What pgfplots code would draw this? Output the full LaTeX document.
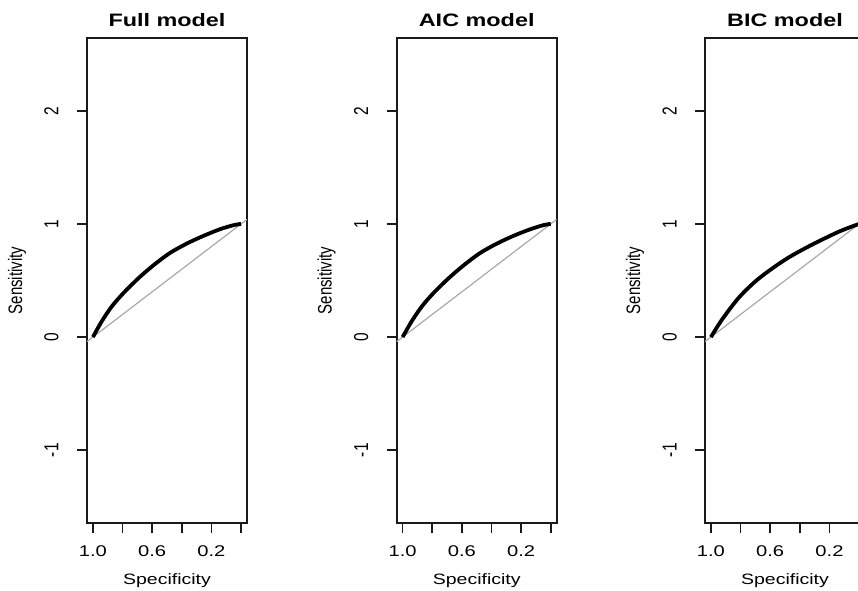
\documentclass[border=0pt]{standalone}
\usepackage{fontspec}
\setmainfont{Liberation Sans}
\usepackage{graphicx}
\usepackage{pgfplots}
\usepackage{pgfplotstable}
\pgfplotsset{compat=1.18}
\definecolor{diaggrey}{HTML}{A9A9A9}
\definecolor{frame}{HTML}{1A1A1A}

% the source image is stretched sideways, so the text is too
\newcommand{\hs}[1]{\scalebox{1.3}[1]{#1}}
\newcommand{\vs}[1]{\scalebox{1}[1.3]{#1}}

% ROC curves: specificity, sensitivity
\pgfplotstableread{
spec sens
1.000 0.000
0.941 0.138
0.873 0.270
0.794 0.389
0.692 0.521
0.590 0.636
0.478 0.745
0.364 0.828
0.251 0.896
0.138 0.955
0.047 0.990
0.000 1.000
}\fullroc
\pgfplotstableread{
spec sens
1.000 0.000
0.941 0.135
0.873 0.266
0.794 0.386
0.692 0.517
0.590 0.632
0.478 0.742
0.364 0.826
0.251 0.895
0.138 0.953
0.047 0.990
0.000 1.000
}\aicroc
\pgfplotstableread{
spec sens
1.000 0.000
0.926 0.153
0.814 0.345
0.701 0.491
0.588 0.605
0.476 0.703
0.364 0.785
0.251 0.860
0.139 0.930
0.049 0.977
0.000 1.000
}\bicroc

\pgfplotsset{
  rocpanel/.style={
    scale only axis, width=160pt, height=485pt,
    anchor=south west,
    x dir=reverse,
    xmin=-0.04, xmax=1.04, ymin=-1.643, ymax=2.643,
    axis line style={frame, line width=1.6pt},
    tick style={frame, line width=1.6pt},
    major tick length=10pt,
    tick align=outside,
    xtick pos=left, ytick pos=left,
    xtick={0,0.2,0.4,0.6,0.8,1},
    xticklabels={,\hs{0.2},,\hs{0.6},,\hs{1.0}},
    ytick={-1,0,1,2},
    yticklabels={\vs{-1},\vs{0},\vs{1},\vs{2}},
    ticklabel style={font=\fontsize{15.5}{18}\selectfont, inner sep=0pt},
    xticklabel style={anchor=base, yshift=-23.7pt},
    yticklabel style={anchor=base, xshift=-18.5pt, rotate=90},
  },
  diag/.style={diaggrey, line width=1.2pt},
  roc/.style={black, line width=3.8pt, line join=round, smooth, tension=0.5},
}
\newcommand{\paneltext}[2]{%
  \node[anchor=base, font=\bfseries\fontsize{18}{21}\selectfont] at (#1pt+80pt,563.3pt) {\hs{#2}};
  \node[anchor=base, font=\fontsize{15}{18}\selectfont] at (#1pt+80pt,6pt) {\hs{Specificity}};
  \node[anchor=base, rotate=90, font=\fontsize{15}{18}\selectfont] at (#1pt-65pt,309.5pt) {\vs{Sensitivity}};
}

\begin{document}
\begin{tikzpicture}
\useasboundingbox (0pt,0pt) rectangle (858pt,590pt);
\clip (0pt,0pt) rectangle (858pt,590pt);

\begin{axis}[rocpanel, at={(87pt,67pt)}]
  \addplot[diag] coordinates {(1.04,-0.04) (-0.04,1.04)};
  \addplot[roc] table[x=spec, y=sens] {\fullroc};
\end{axis}
\paneltext{87}{Full model}

\begin{axis}[rocpanel, at={(396.7pt,67pt)}]
  \addplot[diag] coordinates {(1.04,-0.04) (-0.04,1.04)};
  \addplot[roc] table[x=spec, y=sens] {\aicroc};
\end{axis}
\paneltext{396.7}{AIC model}

\begin{axis}[rocpanel, at={(705pt,67pt)}]
  \addplot[diag] coordinates {(1.04,-0.04) (-0.04,1.04)};
  \addplot[roc] table[x=spec, y=sens] {\bicroc};
\end{axis}
\paneltext{705}{BIC model}
\end{tikzpicture}
\end{document}
